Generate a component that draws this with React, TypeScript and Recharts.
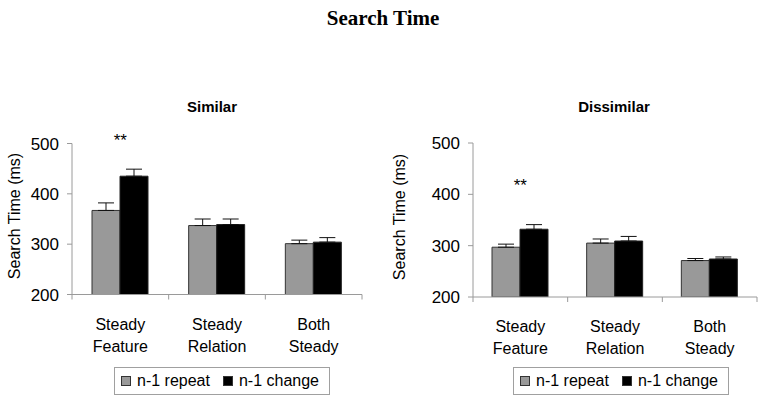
import React from 'react';
import { BarChart, Bar, XAxis, YAxis, ErrorBar, ReferenceDot } from 'recharts';

const categories = ['Steady Feature', 'Steady Relation', 'Both Steady'];
const seriesNames = ['n-1 repeat', 'n-1 change'];
const seriesColors = ['#999999', '#000000'];
const similarRepeat = [367, 337, 301];
const similarChange = [435, 339, 304];
const similarRepeatErr = [15, 13, 7];
const similarChangeErr = [14, 11, 9];
const dissimilarRepeat = [297, 305, 271];
const dissimilarChange = [332, 309, 274];
const dissimilarRepeatErr = [6, 8, 4];
const dissimilarChangeErr = [9, 9, 4];
const yTicks = [200, 300, 400, 500];
const yDomain = [200, 500];
const sigMark = '**';
const similarSigY = 508;
const dissimilarSigY = 419;
const mainTitle = 'Search Time';
const panelTitles = ['Similar', 'Dissimilar'];
const yLabel = 'Search Time (ms)';

const SANS = '"Liberation Sans", Arial, Helvetica, sans-serif';
const SERIF = '"Liberation Serif", "Times New Roman", serif';
const axisColor = '#9a9a9a';

function buildData(rep: number[], chg: number[], repE: number[], chgE: number[]) {
  return categories.map((c, i) => ({
    category: c,
    repeat: rep[i],
    change: chg[i],
    repeatErr: [0, repE[i]],
    changeErr: [0, chgE[i]],
  }));
}

const CatTick = (props: any) => {
  const { x, y, payload, index, visibleTicksCount, width, bandFallback } = props;
  const n = visibleTicksCount || categories.length;
  const band = width ? width / n : bandFallback;
  const words = String(payload.value).split(' ');
  return (
    <g>
      <line x1={x - band / 2} x2={x - band / 2} y1={y} y2={y + 5} stroke={axisColor} />
      {index === n - 1 && (
        <line x1={x + band / 2} x2={x + band / 2} y1={y} y2={y + 5} stroke={axisColor} />
      )}
      <text x={x} y={y} textAnchor="middle" fontSize={16} fontFamily={SANS} fill="#000">
        <tspan x={x} dy={35}>{words[0]}</tspan>
        <tspan x={x} dy={22}>{words[1]}</tspan>
      </text>
    </g>
  );
};

const YLabel = (props: any) => {
  const vb = props.viewBox || {};
  const cx = 20;
  const cy = (vb.y ?? 0) + (vb.height ?? 0) / 2 - 3;
  return (
    <text
      x={cx}
      y={cy}
      transform={`rotate(-90, ${cx}, ${cy})`}
      textAnchor="middle"
      fontSize={16}
      fontFamily={SANS}
      fill="#000"
    >
      {yLabel}
    </text>
  );
};

type PanelProps = {
  data: any[];
  left: number;
  width: number;
  yAxisWidth: number;
  top: number;
  bottomSpace: number;
  right: number;
  sigY: number;
};

const Panel = ({ data, left, width, yAxisWidth, top, bottomSpace, right, sigY }: PanelProps) => {
  const xAxisHeight = 60;
  const bandFallback = (width - yAxisWidth - right) / categories.length;
  return (
    <div style={{ position: 'absolute', left, top: 0, width, height: 403 }}>
      <BarChart
        width={width}
        height={403}
        data={data}
        margin={{ top, right, left: 0, bottom: bottomSpace - xAxisHeight }}
        barGap={0}
        barSize={28}
      >
        <XAxis
          dataKey="category"
          height={xAxisHeight}
          stroke={axisColor}
          tickLine={false}
          tickSize={0}
          tickMargin={0}
          interval={0}
          tick={<CatTick bandFallback={bandFallback} />}
        />
        <YAxis
          width={yAxisWidth}
          domain={yDomain}
          ticks={yTicks}
          allowDataOverflow
          stroke={axisColor}
          tickSize={5}
          tickMargin={8}
          tick={{ fill: '#000', fontSize: 17, fontFamily: SANS }}
          label={<YLabel />}
        />
        <Bar dataKey="repeat" name={seriesNames[0]} fill={seriesColors[0]} stroke="#333" strokeWidth={1} isAnimationActive={false}>
          <ErrorBar dataKey="repeatErr" width={8} stroke="#111" strokeWidth={1} isAnimationActive={false} />
        </Bar>
        <Bar dataKey="change" name={seriesNames[1]} fill={seriesColors[1]} stroke="#222" strokeWidth={1} isAnimationActive={false}>
          <ErrorBar dataKey="changeErr" width={8} stroke="#111" strokeWidth={1} isAnimationActive={false} />
        </Bar>
        <ReferenceDot
          x={categories[0]}
          y={sigY}
          r={0}
          ifOverflow="visible"
          fill="none"
          stroke="none"
          label={{ value: sigMark, position: 'center', fontSize: 17, fill: '#000', fontFamily: SANS }}
        />
      </BarChart>
    </div>
  );
};

const LegendBox = ({ left }: { left: number }) => (
  <div
    style={{
      position: 'absolute',
      left,
      top: 367,
      width: 216,
      height: 28,
      boxSizing: 'border-box',
      border: '1px solid #a0a0a0',
      display: 'flex',
      alignItems: 'center',
      paddingLeft: 6,
      fontFamily: SANS,
      fontSize: 16,
      color: '#000',
      background: '#fff',
    }}
  >
    {seriesNames.map((name, i) => (
      <div key={name} style={{ display: 'flex', alignItems: 'center', marginRight: i === 0 ? 13 : 0 }}>
        <span
          style={{
            display: 'inline-block',
            width: 10,
            height: 10,
            boxSizing: 'border-box',
            background: seriesColors[i],
            border: '1px solid #333',
            marginRight: 6,
          }}
        />
        <span>{name}</span>
      </div>
    ))}
  </div>
);

export default function App() {
  const simData = buildData(similarRepeat, similarChange, similarRepeatErr, similarChangeErr);
  const disData = buildData(dissimilarRepeat, dissimilarChange, dissimilarRepeatErr, dissimilarChangeErr);
  return (
    <div style={{ position: 'absolute', left: 0, top: 0, width: 765, height: 403, background: '#fff', overflow: 'hidden' }}>
      <Panel data={simData} left={0} width={380} yAxisWidth={72} top={143.5} bottomSpace={108.5} right={18} sigY={similarSigY} />
      <Panel data={disData} left={385} width={380} yAxisWidth={88} top={143} bottomSpace={106} right={8} sigY={dissimilarSigY} />
      <svg width={765} height={403} style={{ position: 'absolute', left: 0, top: 0, pointerEvents: 'none' }}>
        <text x={383} y={25} textAnchor="middle" fontFamily={SERIF} fontWeight="bold" fontSize={21} fill="#000">
          {mainTitle}
        </text>
        <text x={212} y={112} textAnchor="middle" fontFamily={SANS} fontWeight="bold" fontSize={15} fill="#000">
          {panelTitles[0]}
        </text>
        <text x={614} y={112} textAnchor="middle" fontFamily={SANS} fontWeight="bold" fontSize={15} fill="#000">
          {panelTitles[1]}
        </text>
      </svg>
      <LegendBox left={114} />
      <LegendBox left={513} />
    </div>
  );
}
